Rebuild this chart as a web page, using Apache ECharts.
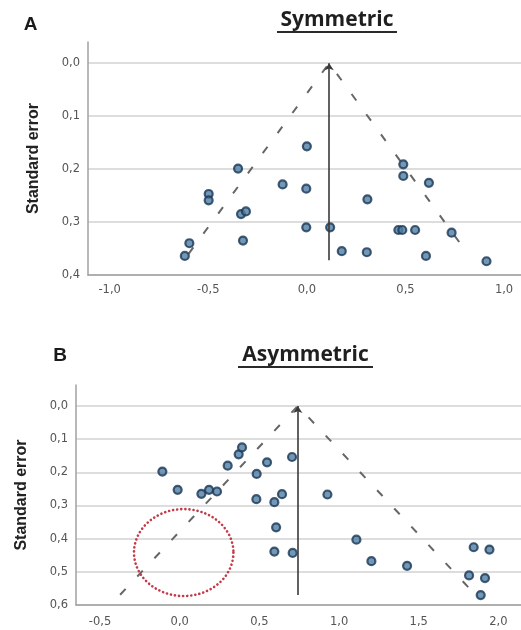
<!DOCTYPE html>
<html>
<head>
<meta charset="utf-8">
<script src="https://cdn.jsdelivr.net/npm/echarts@6/dist/echarts.min.js"></script>
<style>html,body{margin:0;padding:0;background:#fff}#c{width:521px;height:630px}</style>
</head>
<body>
<div id="c"></div>
<script>
// ---- Panel A (Symmetric) ----
const effectA = [0.0, -0.349, -0.123, -0.003, -0.498, -0.498, -0.334, -0.309, -0.003, 0.118, -0.324, -0.596, -0.619, 0.177, 0.304, 0.489, 0.489, 0.619, 0.307, 0.464, 0.484, 0.549, 0.734, 0.604, 0.911];
const seA     = [0.157, 0.199, 0.229, 0.237, 0.247, 0.259, 0.285, 0.280, 0.310, 0.310, 0.335, 0.340, 0.364, 0.355, 0.357, 0.191, 0.213, 0.226, 0.257, 0.315, 0.315, 0.315, 0.320, 0.364, 0.374];
const meanA = 0.113;
const meanEndA = 0.372;
const funnelA = [[-0.60, 0.36], [0.113, 0.0], [0.82, 0.362]];
const yTicksA = [0.0, 0.1, 0.2, 0.3, 0.4];
const xTicksA = [-1.0, -0.5, 0.0, 0.5, 1.0];

// ---- Panel B (Asymmetric) ----
const effectB = [-0.109, -0.013, 0.136, 0.184, 0.234, 0.301, 0.370, 0.391, 0.483, 0.548, 0.705, 0.481, 0.594, 0.642, 0.605, 0.594, 0.709, 0.927, 1.109, 1.203, 1.427, 1.845, 1.944, 1.816, 1.916, 1.889];
const seB     = [0.198, 0.253, 0.265, 0.253, 0.258, 0.180, 0.146, 0.125, 0.205, 0.170, 0.154, 0.281, 0.290, 0.266, 0.366, 0.439, 0.443, 0.267, 0.403, 0.468, 0.482, 0.426, 0.433, 0.511, 0.519, 0.570];
const meanB = 0.741;
const meanEndB = 0.570;
const funnelB = [[-0.374, 0.569], [0.741, 0.0], [1.83, 0.556]];
const yTicksB = [0.0, 0.1, 0.2, 0.3, 0.4, 0.5, 0.6];
const xTicksB = [-0.5, 0.0, 0.5, 1.0, 1.5, 2.0];
// highlighted region (centre x, centre y, radius x, radius y) in data units
const regionB = [[0.025, 0.442, 0.312, 0.131]];

const zip = (xs, ys) => xs.map((x, i) => [x, ys[i]]);
const fmt = v => Number(v).toFixed(1).replace('.', ',');

const gridColor = '#d2d2d2';
const axisColor = '#a0a0a0';
const labelStyle = { color: '#555555', fontSize: 11.5, fontFamily: 'DejaVu Sans' };
const nameStyle = { color: '#222222', fontSize: 16, fontWeight: 'bold', fontFamily: 'Liberation Sans' };

function xAxis(gi, min, max, ticks, margin) {
  return {
    type: 'value', gridIndex: gi, min, max,
    axisLine: { show: true, onZero: false, lineStyle: { color: axisColor, width: 1.5 } },
    axisTick: { show: false, customValues: ticks },
    splitLine: { show: false },
    axisLabel: { customValues: ticks, formatter: fmt, margin, ...labelStyle }
  };
}
function yAxis(gi, min, max, ticks) {
  return {
    type: 'value', gridIndex: gi, min, max, inverse: true,
    name: 'Standard error', nameLocation: 'middle', nameRotate: 90, nameGap: 46,
    nameTextStyle: nameStyle,
    axisLine: { show: true, onZero: false, lineStyle: { color: axisColor, width: 1.5 } },
    axisTick: { show: false, customValues: ticks },
    splitLine: { show: true, lineStyle: { color: gridColor, width: 1.6 } },
    axisLabel: { customValues: ticks, formatter: fmt, margin: 8, ...labelStyle }
  };
}

const dotStyle = { color: '#4f7ea3', borderColor: '#1a3756', borderWidth: 2.2 };
const dashStyle = { color: '#666666', width: 2, type: [8, 17] };

function meanMark(m, end) {
  return {
    silent: true, symbol: ['arrow', 'none'], symbolSize: [7, 7],
    label: { show: false },
    lineStyle: { color: '#3a3a3a', width: 1.6, type: 'solid' },
    emphasis: { disabled: true },
    data: [[{ coord: [m, 0] }, { coord: [m, end] }]]
  };
}

const chart = echarts.init(document.getElementById('c'), null, { renderer: 'canvas' });
chart.setOption({
  animation: false,
  backgroundColor: '#ffffff',
  grid: [
    { left: 88, top: 42, width: 433, height: 233 },
    { left: 76, top: 385, width: 445, height: 220 }
  ],
  xAxis: [xAxis(0, -1.11, 1.086, xTicksA, 9), xAxis(1, -0.651, 2.142, xTicksB, 11)],
  yAxis: [yAxis(0, -0.04, 0.4, yTicksA), yAxis(1, -0.063, 0.6, yTicksB)],
  graphic: [
    { type: 'text', x: 30.5, y: 25, style: { text: 'A', align: 'center', verticalAlign: 'middle', font: 'bold 19px "Liberation Sans"', fill: '#1a1a1a' } },
    { type: 'text', x: 337, y: 20, style: { text: 'Symmetric', align: 'center', verticalAlign: 'middle', font: 'bold 21px "Open Sans"', fill: '#1f1f1f' } },
    { type: 'rect', shape: { x: 277, y: 31, width: 120, height: 2 }, style: { fill: '#2a2a2a' } },
    { type: 'text', x: 60, y: 355.5, style: { text: 'B', align: 'center', verticalAlign: 'middle', font: 'bold 19px "Liberation Sans"', fill: '#1a1a1a' } },
    { type: 'text', x: 305.5, y: 355, style: { text: 'Asymmetric', align: 'center', verticalAlign: 'middle', font: 'bold 21px "Open Sans"', fill: '#1f1f1f' } },
    { type: 'rect', shape: { x: 238, y: 366, width: 135, height: 2 }, style: { fill: '#2a2a2a' } }
  ],
  series: [
    { type: 'line', xAxisIndex: 0, yAxisIndex: 0, data: funnelA, symbol: 'none', silent: true, lineStyle: dashStyle, z: 2 },
    { type: 'scatter', xAxisIndex: 0, yAxisIndex: 0, data: zip(effectA, seA), symbolSize: 8, itemStyle: dotStyle, z: 4, markLine: meanMark(meanA, meanEndA) },
    { type: 'line', xAxisIndex: 1, yAxisIndex: 1, data: funnelB, symbol: 'none', silent: true, lineStyle: dashStyle, z: 2 },
    { type: 'scatter', xAxisIndex: 1, yAxisIndex: 1, data: zip(effectB, seB), symbolSize: 8, itemStyle: dotStyle, z: 4, markLine: meanMark(meanB, meanEndB) },
    {
      type: 'custom', xAxisIndex: 1, yAxisIndex: 1, data: regionB, silent: true, z: 3,
      renderItem: function (params, api) {
        const cx = api.value(0), cy = api.value(1), rx = api.value(2), ry = api.value(3);
        const pts = [];
        for (let i = 0; i < 180; i++) {
          const t = i / 180 * Math.PI * 2;
          pts.push(api.coord([cx + rx * Math.cos(t), cy + ry * Math.sin(t)]));
        }
        return { type: 'polygon', shape: { points: pts }, style: { fill: 'none', stroke: '#c43a48', lineWidth: 2.6, lineDash: [0.1, 4], lineCap: 'round' } };
      }
    }
  ]
});
</script>
</body>
</html>
